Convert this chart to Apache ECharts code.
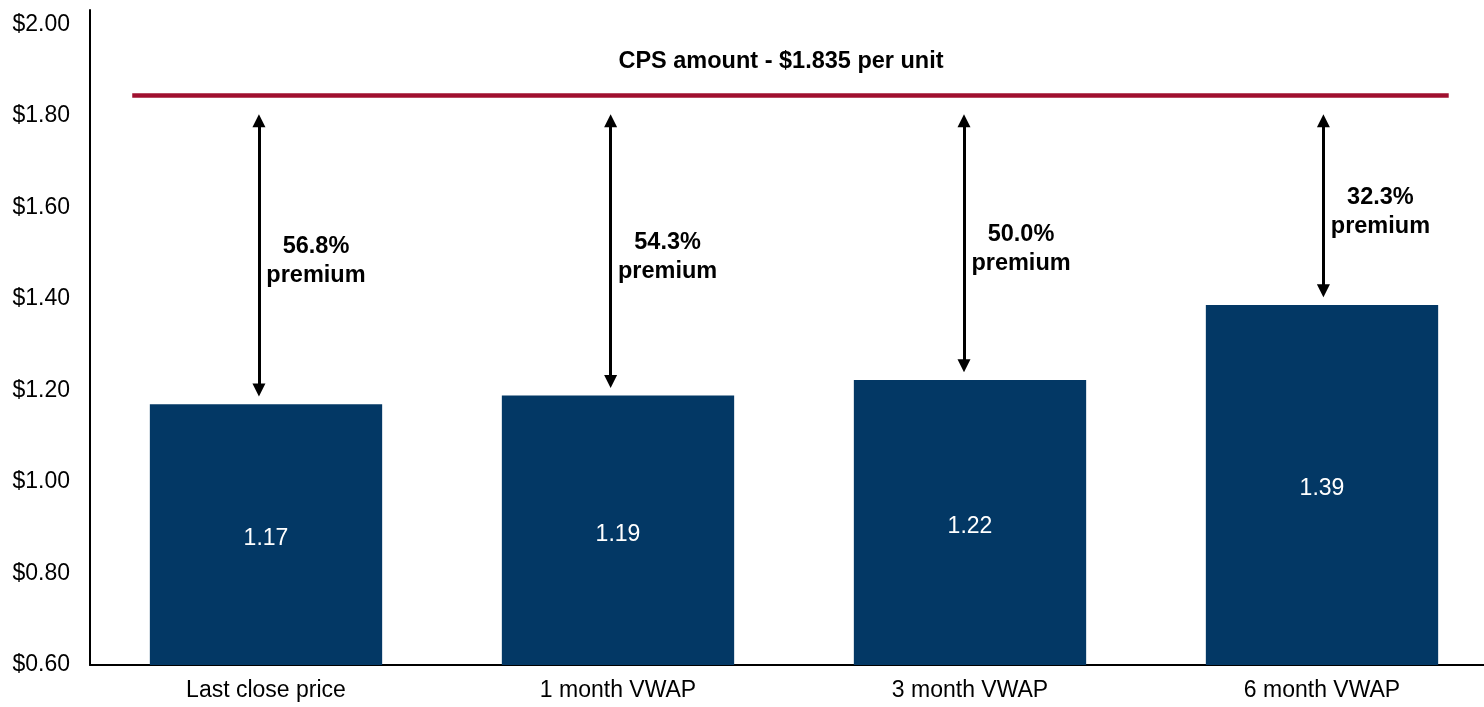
<!DOCTYPE html>
<html>
<head>
<meta charset="utf-8">
<script src="https://cdn.jsdelivr.net/npm/echarts@6/dist/echarts.min.js"></script>
<style>
    html, body { margin: 0; padding: 0; background: #fff; overflow: hidden; }
    #chart { width: 1500px; height: 707px; }
</style>
</head>
<body>
<div id="chart"></div>
<script>
    // data
    var categories = ['Last close price', '1 month VWAP', '3 month VWAP', '6 month VWAP'];
    var prices = [1.170, 1.189, 1.223, 1.387];
    var premiums = [56.8, 54.3, 50.0, 32.3];
    var cpsAmount = 1.835;
    var cpsLineLevel = 1.845; // where the red line is drawn in the picture
    var yMin = 0.6, yMax = 2.0, yStep = 0.2;

    var font = '"Liberation Sans", Arial, sans-serif';
    var arrowTop = 1.79;    // arrow head centre under the CPS line
    var arrowGap = 0.031;   // space left above each bar
    // arrows are not quite on the bar centres (in category units)
    var arrowShift = [-0.02, -0.021, -0.017, 0.004];

    var arrowData = prices.map(function (p, i) {
        var x = i + arrowShift[i];
        return { coords: [[x, arrowTop], [x, p + arrowGap]] };
    });
    var premiumData = prices.map(function (p, i) {
        return {
            value: [i + arrowShift[i], (arrowTop + p + arrowGap) / 2],
            label: { formatter: premiums[i].toFixed(1) + '%\npremium' }
        };
    });

    var chart = echarts.init(document.getElementById('chart'));
    chart.setOption({
        animation: false,
        textStyle: { fontFamily: font },
        // plot runs a little past the right edge of the window, as in the picture
        grid: { left: 90, right: 2, top: 10, bottom: 42, containLabel: false },
        xAxis: [
            {
                type: 'category',
                data: categories,
                axisLine: { lineStyle: { color: '#000', width: 2 } },
                axisTick: { show: false },
                axisLabel: { color: '#000', fontSize: 23, margin: 14 }
            },
            { type: 'value', min: -0.5, max: 3.5, show: false }
        ],
        yAxis: {
            type: 'value',
            min: yMin,
            max: 2.032,
            interval: yStep,
            splitLine: { show: false },
            axisTick: { show: false },
            axisLine: { show: true, onZero: false, lineStyle: { color: '#000', width: 2 } },
            axisLabel: {
                color: '#000',
                fontSize: 23,
                margin: 20,
                formatter: function (v) {
                    return v > yMax + 0.001 ? '' : '$' + v.toFixed(2);
                }
            }
        },
        graphic: [{
            type: 'text',
            x: 781,
            y: 62,
            style: {
                text: 'CPS amount - $' + cpsAmount + ' per unit',
                font: 'bold 23.5px ' + font,
                fill: '#000',
                align: 'center',
                verticalAlign: 'middle'
            }
        }],
        series: [
            {
                type: 'bar',
                data: prices,
                barWidth: '66%',
                itemStyle: { color: '#033865' },
                label: {
                    show: true,
                    position: 'inside',
                    offset: [0, 4],
                    color: '#fff',
                    fontSize: 23,
                    formatter: function (p) { return p.value.toFixed(2); }
                }
            },
            {
                type: 'line',
                xAxisIndex: 1,
                data: [[-0.38, cpsLineLevel], [3.36, cpsLineLevel]],
                symbol: 'none',
                lineStyle: { color: '#A0102F', width: 4.5 }
            },
            {
                type: 'lines',
                coordinateSystem: 'cartesian2d',
                xAxisIndex: 1,
                data: arrowData,
                symbol: ['triangle', 'triangle'],
                symbolSize: [13, 13],
                lineStyle: { color: '#000', width: 3, opacity: 1 }
            },
            {
                type: 'scatter',
                xAxisIndex: 1,
                data: premiumData,
                symbolSize: 0,
                itemStyle: { opacity: 1 },
                label: {
                    show: true,
                    position: 'inside',
                    offset: [57, 6],
                    align: 'center',
                    color: '#000',
                    textBorderWidth: 0,
                    fontWeight: 'bold',
                    fontSize: 23.5,
                    lineHeight: 29
                }
            }
        ]
    });
</script>
</body>
</html>
